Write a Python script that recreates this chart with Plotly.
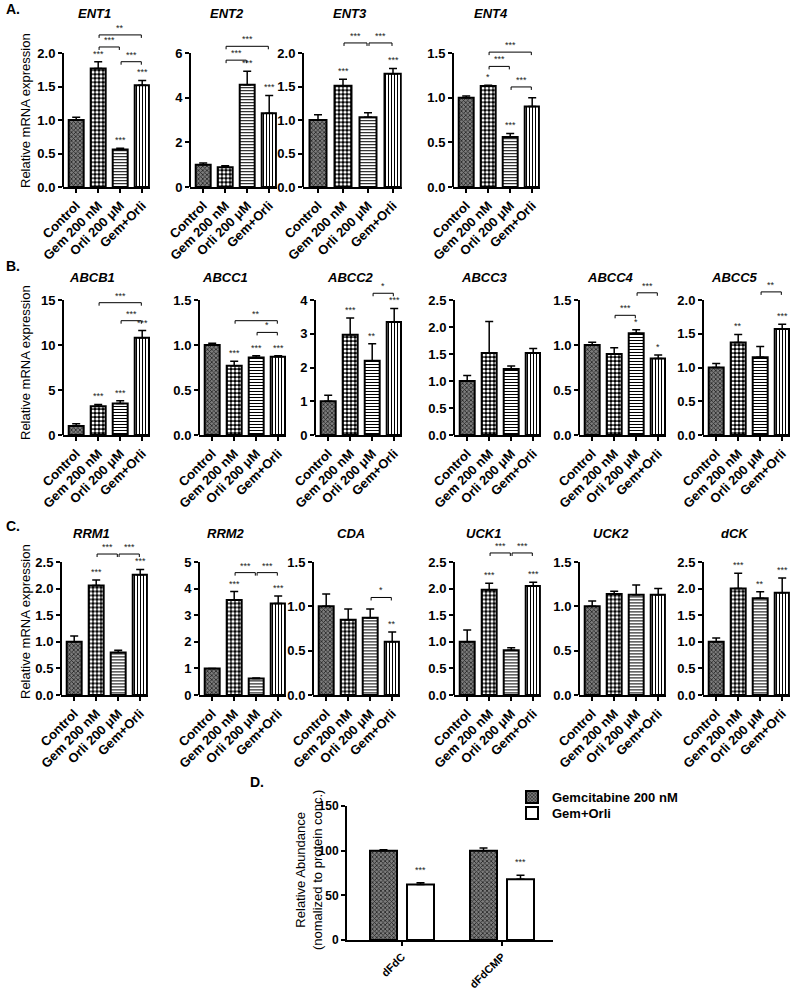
import plotly.graph_objects as go

# ------------------------------------------------------------------ data
CATEGORIES = ["Control", "Gem 200 nM", "Orli 200 μM", "Gem+Orli"]

# Panel A : nucleoside transporters
ENT1_VALUES = [1.00, 1.77, 0.56, 1.52]
ENT1_ERRORS = [0.04, 0.10, 0.02, 0.07]
ENT1_STARS = ["", "***", "***", "***"]
ENT1_BRACKETS = [(1, 3, "**", 2.27), (1, 2, "***", 2.09), (2, 3, "***", 1.87)]

ENT2_VALUES = [1.00, 0.88, 4.58, 3.30]
ENT2_ERRORS = [0.08, 0.07, 0.60, 0.80]
ENT2_STARS = ["", "", "***", "***"]
ENT2_BRACKETS = [(1, 3, "***", 6.3), (1, 2, "***", 5.68)]

ENT3_VALUES = [1.00, 1.51, 1.04, 1.69]
ENT3_ERRORS = [0.08, 0.10, 0.07, 0.08]
ENT3_STARS = ["", "***", "", "***"]
ENT3_BRACKETS = [(1, 2, "***", 2.15), (2, 3, "***", 2.15)]

ENT4_VALUES = [1.00, 1.13, 0.56, 0.90]
ENT4_ERRORS = [0.02, 0.01, 0.04, 0.10]
ENT4_STARS = ["", "*", "***", ""]
ENT4_BRACKETS = [(1, 3, "***", 1.51), (1, 2, "***", 1.35), (2, 3, "***", 1.12)]

# Panel B : efflux transporters
ABCB1_VALUES = [1.00, 3.20, 3.50, 10.80]
ABCB1_ERRORS = [0.25, 0.20, 0.30, 0.80]
ABCB1_STARS = ["", "***", "***", "***"]
ABCB1_BRACKETS = [(1, 3, "***", 14.7), (2, 3, "***", 12.7)]

ABCC1_VALUES = [1.00, 0.77, 0.86, 0.87]
ABCC1_ERRORS = [0.02, 0.05, 0.02, 0.01]
ABCC1_STARS = ["", "***", "***", "***"]
ABCC1_BRACKETS = [(1, 3, "**", 1.27), (2, 3, "*", 1.14)]

ABCC2_VALUES = [1.00, 2.97, 2.20, 3.35]
ABCC2_ERRORS = [0.18, 0.50, 0.50, 0.40]
ABCC2_STARS = ["", "***", "**", "***"]
ABCC2_BRACKETS = [(2, 3, "*", 4.2)]

ABCC3_VALUES = [1.00, 1.52, 1.22, 1.52]
ABCC3_ERRORS = [0.10, 0.58, 0.06, 0.08]
ABCC3_STARS = ["", "", "", ""]
ABCC3_BRACKETS = []

ABCC4_VALUES = [1.00, 0.90, 1.13, 0.85]
ABCC4_ERRORS = [0.03, 0.07, 0.04, 0.04]
ABCC4_STARS = ["", "", "*", "*"]
ABCC4_BRACKETS = [(2, 3, "***", 1.58), (1, 2, "***", 1.33)]

ABCC5_VALUES = [1.00, 1.37, 1.15, 1.57]
ABCC5_ERRORS = [0.06, 0.12, 0.16, 0.07]
ABCC5_STARS = ["", "**", "", "***"]
ABCC5_BRACKETS = [(2, 3, "**", 2.12)]

# Panel C : metabolic enzymes
RRM1_VALUES = [1.00, 2.06, 0.80, 2.26]
RRM1_ERRORS = [0.11, 0.10, 0.04, 0.10]
RRM1_STARS = ["", "***", "", "***"]
RRM1_BRACKETS = [(1, 2, "***", 2.65), (2, 3, "***", 2.65)]

RRM2_VALUES = [1.00, 3.57, 0.62, 3.44]
RRM2_ERRORS = [0.00, 0.32, 0.02, 0.28]
RRM2_STARS = ["", "***", "", "***"]
RRM2_BRACKETS = [(1, 2, "***", 4.6), (2, 3, "***", 4.6)]

CDA_VALUES = [1.00, 0.85, 0.87, 0.60]
CDA_ERRORS = [0.14, 0.12, 0.10, 0.11]
CDA_STARS = ["", "", "", "**"]
CDA_BRACKETS = [(2, 3, "*", 1.10)]

UCK1_VALUES = [1.00, 1.98, 0.84, 2.05]
UCK1_ERRORS = [0.22, 0.12, 0.05, 0.07]
UCK1_STARS = ["", "***", "", "***"]
UCK1_BRACKETS = [(1, 2, "***", 2.67), (2, 3, "***", 2.67)]

UCK2_VALUES = [1.00, 1.14, 1.13, 1.13]
UCK2_ERRORS = [0.06, 0.03, 0.11, 0.07]
UCK2_STARS = ["", "", "", ""]
UCK2_BRACKETS = []

DCK_VALUES = [1.00, 2.00, 1.82, 1.92]
DCK_ERRORS = [0.07, 0.29, 0.12, 0.28]
DCK_STARS = ["", "***", "**", "***"]
DCK_BRACKETS = []

# Panel D : intracellular metabolites
D_CATEGORIES = ["dFdC", "dFdCMP"]
D_SERIES_NAMES = ["Gemcitabine 200 nM", "Gem+Orli"]
D_GEM_VALUES = [100, 100]
D_GEM_ERRORS = [1.0, 3.0]
D_COMBO_VALUES = [62, 68]
D_COMBO_ERRORS = [2.0, 4.5]
D_COMBO_STARS = ["***", "***"]

# ------------------------------------------------------------------ panel specs
PANELS = [
    dict(title="ENT1", values=ENT1_VALUES, errors=ENT1_ERRORS, stars=ENT1_STARS, brackets=ENT1_BRACKETS, ymax=2.0, dtick=0.5, fmt="{:.1f}"),
    dict(title="ENT2", values=ENT2_VALUES, errors=ENT2_ERRORS, stars=ENT2_STARS, brackets=ENT2_BRACKETS, ymax=6, dtick=2, fmt="{:.0f}"),
    dict(title="ENT3", values=ENT3_VALUES, errors=ENT3_ERRORS, stars=ENT3_STARS, brackets=ENT3_BRACKETS, ymax=2.0, dtick=0.5, fmt="{:.1f}"),
    dict(title="ENT4", values=ENT4_VALUES, errors=ENT4_ERRORS, stars=ENT4_STARS, brackets=ENT4_BRACKETS, ymax=1.5, dtick=0.5, fmt="{:.1f}"),
    dict(title="ABCB1", values=ABCB1_VALUES, errors=ABCB1_ERRORS, stars=ABCB1_STARS, brackets=ABCB1_BRACKETS, ymax=15, dtick=5, fmt="{:.0f}"),
    dict(title="ABCC1", values=ABCC1_VALUES, errors=ABCC1_ERRORS, stars=ABCC1_STARS, brackets=ABCC1_BRACKETS, ymax=1.5, dtick=0.5, fmt="{:.1f}"),
    dict(title="ABCC2", values=ABCC2_VALUES, errors=ABCC2_ERRORS, stars=ABCC2_STARS, brackets=ABCC2_BRACKETS, ymax=4, dtick=1, fmt="{:.0f}"),
    dict(title="ABCC3", values=ABCC3_VALUES, errors=ABCC3_ERRORS, stars=ABCC3_STARS, brackets=ABCC3_BRACKETS, ymax=2.5, dtick=0.5, fmt="{:.1f}"),
    dict(title="ABCC4", values=ABCC4_VALUES, errors=ABCC4_ERRORS, stars=ABCC4_STARS, brackets=ABCC4_BRACKETS, ymax=1.5, dtick=0.5, fmt="{:.1f}"),
    dict(title="ABCC5", values=ABCC5_VALUES, errors=ABCC5_ERRORS, stars=ABCC5_STARS, brackets=ABCC5_BRACKETS, ymax=2.0, dtick=0.5, fmt="{:.1f}"),
    dict(title="RRM1", values=RRM1_VALUES, errors=RRM1_ERRORS, stars=RRM1_STARS, brackets=RRM1_BRACKETS, ymax=2.5, dtick=0.5, fmt="{:.1f}"),
    dict(title="RRM2", values=RRM2_VALUES, errors=RRM2_ERRORS, stars=RRM2_STARS, brackets=RRM2_BRACKETS, ymax=5, dtick=1, fmt="{:.0f}"),
    dict(title="CDA", values=CDA_VALUES, errors=CDA_ERRORS, stars=CDA_STARS, brackets=CDA_BRACKETS, ymax=1.5, dtick=0.5, fmt="{:.1f}"),
    dict(title="UCK1", values=UCK1_VALUES, errors=UCK1_ERRORS, stars=UCK1_STARS, brackets=UCK1_BRACKETS, ymax=2.5, dtick=0.5, fmt="{:.1f}"),
    dict(title="UCK2", values=UCK2_VALUES, errors=UCK2_ERRORS, stars=UCK2_STARS, brackets=UCK2_BRACKETS, ymax=1.5, dtick=0.5, fmt="{:.1f}"),
    dict(title="dCK", values=DCK_VALUES, errors=DCK_ERRORS, stars=DCK_STARS, brackets=DCK_BRACKETS, ymax=2.5, dtick=0.5, fmt="{:.1f}"),
]

# ------------------------------------------------------------------ layout (pixels)
W, H = 800, 994
ROW_A = dict(bottom=187, height=134, title_y=14)
ROW_B = dict(bottom=435, height=135, title_y=278)
ROW_C = dict(bottom=695, height=133, title_y=533)
# title -> (row, left axis x px, px per category, title centre x px)
POSITIONS = {
    "ENT1": (ROW_A, 63, 22, 94), "ENT2": (ROW_A, 190, 22, 227),
    "ENT3": (ROW_A, 303, 25, 350), "ENT4": (ROW_A, 453, 22, 491),
    "ABCB1": (ROW_B, 63, 22, 92), "ABCC1": (ROW_B, 199, 22, 225),
    "ABCC2": (ROW_B, 315, 22, 350), "ABCC3": (ROW_B, 454, 22, 484),
    "ABCC4": (ROW_B, 579, 22, 610), "ABCC5": (ROW_B, 703, 22, 734),
    "RRM1": (ROW_C, 61, 22, 91), "RRM2": (ROW_C, 199, 22, 226),
    "CDA": (ROW_C, 313, 22, 351), "UCK1": (ROW_C, 454, 22, 483),
    "UCK2": (ROW_C, 579, 22, 611), "dCK": (ROW_C, 703, 22, 735),
}
X_RANGE = (-0.6, 3.35)
BAR_WIDTH = 0.68
EXT = 1.2  # head-room above the top tick for brackets

FONT = "Arial, Liberation Sans, sans-serif"
PATTERN = dict(
    shape=["x", ".", "-", "|"],
    fgcolor=["#222222", "#ffffff", "#000000", "#000000"],
    bgcolor=["#7d7d7d", "#000000", "#ffffff", "#ffffff"],
    size=[3, 4, 3, 3],
    solidity=[0.45, 0.5, 0.35, 0.35],
)


def fx(px):
    return px / W


def fy(py):
    return 1 - py / H


fig = go.Figure()
annotations = []
shapes = []
layout = {}

for idx, p in enumerate(PANELS, start=1):
    row, xl, ppu, tx = POSITIONS[p["title"]]
    suffix = "" if idx == 1 else str(idx)
    xa, ya = "x" + suffix, "y" + suffix
    width_px = (X_RANGE[1] - X_RANGE[0]) * ppu
    bottom, h = row["bottom"], row["height"]
    top = bottom - EXT * h
    ymax = p["ymax"]
    nt = int(round(ymax / p["dtick"]))
    tickvals = [k * p["dtick"] for k in range(nt + 1)]

    layout["xaxis" + suffix] = dict(
        domain=[fx(xl), fx(xl + width_px)], range=list(X_RANGE), anchor=ya, automargin=False,
        tickvals=list(range(len(CATEGORIES))), ticktext=CATEGORIES, tickangle=-45,
        ticks="outside", ticklen=4, tickwidth=2, tickcolor="black",
        showline=True, linewidth=2, linecolor="black", showgrid=False, zeroline=False,
        tickfont=dict(family=FONT, size=13, color="black", weight="bold"), fixedrange=True,
    )
    layout["yaxis" + suffix] = dict(
        domain=[fy(bottom), fy(top)], range=[0, EXT * ymax], anchor=xa, automargin=False,
        tickvals=tickvals, ticktext=[p["fmt"].format(v) for v in tickvals],
        ticks="outside", ticklen=4, tickwidth=2, tickcolor="black",
        showline=False, showgrid=False, zeroline=False,
        tickfont=dict(family=FONT, size=13, color="black", weight="bold"), fixedrange=True,
    )
    shapes.append(dict(type="line", xref=xa + " domain", yref=ya, x0=0, x1=0, y0=0, y1=ymax,
                       line=dict(color="black", width=2)))

    fig.add_trace(go.Bar(
        x=list(range(len(CATEGORIES))), y=p["values"], width=BAR_WIDTH,
        xaxis=xa, yaxis=ya, showlegend=False, hoverinfo="skip",
        marker=dict(pattern=PATTERN, line=dict(color="black", width=2)),
        error_y=dict(type="data", symmetric=False, array=p["errors"],
                     arrayminus=[0] * len(p["errors"]), color="black", thickness=1.5, width=4),
    ))

    for i, s in enumerate(p["stars"]):
        if s:
            annotations.append(dict(x=i, y=p["values"][i] + p["errors"][i], xref=xa, yref=ya,
                                    text=s, showarrow=False, yanchor="bottom", yshift=1,
                                    font=dict(family=FONT, size=9, color="#222")))

    drop = 3.0 / h * ymax
    for a, b, s, lvl in p["brackets"]:
        fig.add_trace(go.Scatter(
            x=[a + 0.04, a + 0.04, b - 0.04, b - 0.04], y=[lvl - drop, lvl, lvl, lvl - drop],
            mode="lines", line=dict(color="black", width=1), xaxis=xa, yaxis=ya,
            showlegend=False, hoverinfo="skip"))
        annotations.append(dict(x=(a + b) / 2, y=lvl, xref=xa, yref=ya, text=s, showarrow=False,
                                yanchor="bottom", yshift=0, font=dict(family=FONT, size=9, color="#222")))

    annotations.append(dict(x=fx(tx), y=fy(row["title_y"]), xref="paper", yref="paper",
                            text="<b><i>%s</i></b>" % p["title"], showarrow=False,
                            xanchor="center", yanchor="middle",
                            font=dict(family=FONT, size=13, color="black")))

# ------------------------------------------------------------------ panel D
dn = len(PANELS) + 1
xa, ya = "x%d" % dn, "y%d" % dn
D_LEFT, D_RIGHT, D_TOP, D_BOTTOM = 347, 553, 806, 940
layout["xaxis%d" % dn] = dict(
    domain=[fx(D_LEFT), fx(D_RIGHT)], range=[-0.55, 1.51], anchor=ya, automargin=False,
    tickvals=[0, 1], ticktext=D_CATEGORIES, tickangle=-45,
    ticks="outside", ticklen=4, tickwidth=2, tickcolor="black",
    showline=True, linewidth=2, linecolor="black", showgrid=False, zeroline=False,
    tickfont=dict(family=FONT, size=11, color="black", weight="bold"), fixedrange=True,
)
layout["yaxis%d" % dn] = dict(
    domain=[fy(D_BOTTOM), fy(D_TOP)], range=[0, 150], anchor=xa, automargin=False,
    tickvals=[0, 50, 100, 150], ticks="outside", ticklen=4, tickwidth=2, tickcolor="black",
    showline=True, linewidth=2, linecolor="black", showgrid=False, zeroline=False,
    tickfont=dict(family=FONT, size=12, color="black", weight="bold"), fixedrange=True,
)
fig.add_trace(go.Bar(
    x=[0, 1], y=D_GEM_VALUES, name=D_SERIES_NAMES[0], width=0.27, offset=-0.32,
    xaxis=xa, yaxis=ya, hoverinfo="skip", legend="legend",
    marker=dict(pattern=dict(shape="x", fgcolor="#222222", bgcolor="#7d7d7d", size=3, solidity=0.45),
                line=dict(color="black", width=2)),
    error_y=dict(type="data", symmetric=False, array=D_GEM_ERRORS, arrayminus=[0, 0],
                 color="black", thickness=1.5, width=4),
))
fig.add_trace(go.Bar(
    x=[0, 1], y=D_COMBO_VALUES, name=D_SERIES_NAMES[1], width=0.27, offset=0.05,
    xaxis=xa, yaxis=ya, hoverinfo="skip", legend="legend2",
    marker=dict(color="white", line=dict(color="black", width=2)),
    error_y=dict(type="data", symmetric=False, array=D_COMBO_ERRORS, arrayminus=[0, 0],
                 color="black", thickness=1.5, width=4),
))
for i, s in enumerate(D_COMBO_STARS):
    annotations.append(dict(x=i + 0.185, y=D_COMBO_VALUES[i] + D_COMBO_ERRORS[i], xref=xa, yref=ya,
                            text=s, showarrow=False, yanchor="bottom", yshift=6,
                            font=dict(family=FONT, size=9, color="#222")))

# ------------------------------------------------------------------ labels
for label, x, y in [("A.", 4, 9), ("B.", 4, 266), ("C.", 4, 526), ("D.", 248, 782)]:
    annotations.append(dict(x=fx(x), y=fy(y), xref="paper", yref="paper", text="<b>%s</b>" % label,
                            showarrow=False, xanchor="left", yanchor="middle",
                            font=dict(family=FONT, size=14, color="black")))
for yc in [111, 363, 622]:
    annotations.append(dict(x=fx(25), y=fy(yc), xref="paper", yref="paper",
                            text="Relative mRNA expression", textangle=-90, showarrow=False,
                            xanchor="center", yanchor="middle",
                            font=dict(family=FONT, size=13, color="black")))
annotations.append(dict(x=fx(309), y=fy(870), xref="paper", yref="paper",
                        text="Relative Abundance<br>(nomalized to protein conc.)", textangle=-90,
                        showarrow=False, xanchor="center", yanchor="middle",
                        font=dict(family=FONT, size=13, color="black")))

LEGEND_STYLE = dict(xanchor="left", yanchor="middle", bgcolor="rgba(0,0,0,0)",
                    font=dict(family=FONT, size=13, color="black", weight="bold"))
fig.update_layout(
    template="none",
    width=W, height=H, margin=dict(l=0, r=0, t=0, b=0, pad=0, autoexpand=False),
    paper_bgcolor="white", plot_bgcolor="white", barmode="overlay",
    showlegend=True,
    legend=dict(x=fx(512), y=fy(797), **LEGEND_STYLE),
    legend2=dict(x=fx(512), y=fy(813), **LEGEND_STYLE),
    annotations=annotations, shapes=shapes,
    **layout,
)

fig.write_html("out.html", config={"displayModeBar": False},
               post_script="document.body.style.margin='0px';")
